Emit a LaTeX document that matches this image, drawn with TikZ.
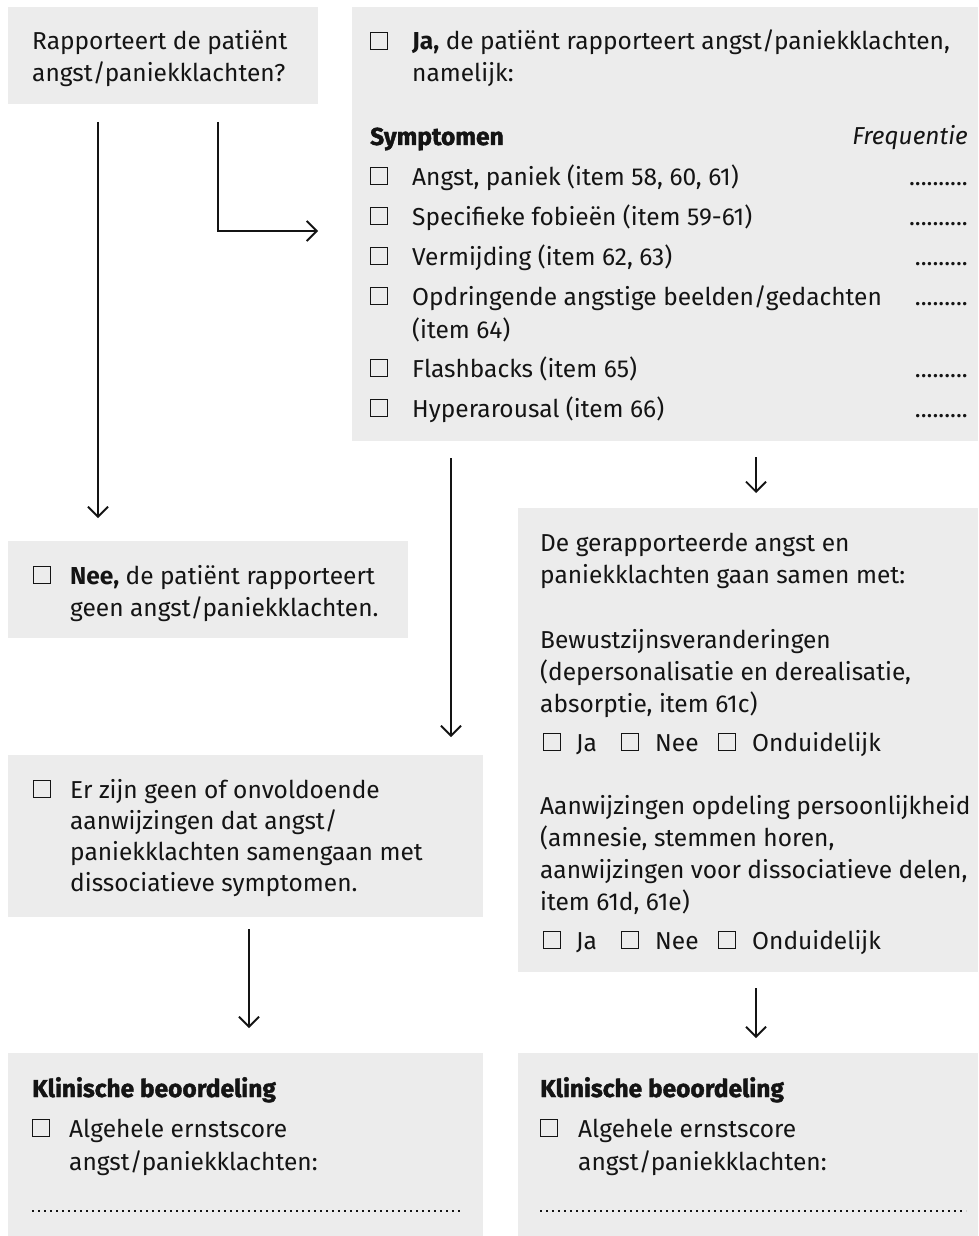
\documentclass[tikz,border=0pt]{standalone}
\usepackage{fontspec}
\setmainfont{Fira Sans}
\newfontfamily\heavyfont{Fira Sans}[BoldFeatures={FakeBold=1.6}]
\usetikzlibrary{arrows.meta}
\definecolor{panelgrey}{RGB}{236,236,236}
\definecolor{ink}{RGB}{20,20,20}
\tikzset{
  panel/.style={fill=panelgrey, draw=none, inner sep=0pt, anchor=north west},
  txt/.style={anchor=base west, inner sep=0pt, text=ink, font=\fontsize{24.5}{28}\selectfont},
  rtxt/.style={txt, anchor=base east},
  hd/.style={anchor=base west, inner sep=0pt, text=ink, font=\fontsize{24.5}{28}\selectfont\heavyfont\bfseries},
  chkbox/.style={draw=ink, line width=1.1pt, minimum size=17pt, inner sep=0pt, anchor=south west},
  smallbox/.style={chkbox, minimum size=17pt},
  flow/.style={draw=ink, line width=1.8pt, -{Straight Barb[length=10pt,width=20pt]}},
  fill line/.style={draw=ink, line width=1.8pt, dash pattern=on 1.8pt off 4.2pt}
}
\begin{document}
\begin{tikzpicture}[x=1pt, y=-1pt]
  \fill[white] (0,0) rectangle (978,1236);
  \useasboundingbox (0,0) rectangle (978,1236);

  % question
  \node[panel, minimum width=310pt, minimum height=97pt] (q) at (8,7) {};
  \node[txt] (q1) at (32,50) {Rapporteert de patiënt};
  \node[txt] (q2) at (32,82) {angst/paniekklachten?};

  % yes: symptom list
  \node[panel, minimum width=626pt, minimum height=434pt] (yes) at (352,7) {};
  \node[chkbox] (yc) at (370,50) {};
  \node[txt] (y1) at (412,50) {\textbf{Ja,} de patiënt rapporteert angst/paniekklachten,};
  \node[txt] (y2) at (412,82) {namelijk:};
  \node[hd] (symh) at (370,145) {Symptomen};
  \node[rtxt, font=\fontsize{24.5}{28}\selectfont\itshape] (freqh) at (968,145) {Frequentie};

  \node[chkbox] (s1c) at (370,185) {};
  \node[txt] (s1) at (412,185) {Angst, paniek (item 58, 60, 61)};
  \node[rtxt] (s1f) at (968,185) {..........};
  \node[chkbox] (s2c) at (370,225) {};
  \node[txt] (s2) at (412,225) {Specifieke fobieën (item 59-61)};
  \node[rtxt] (s2f) at (968,225) {..........};
  \node[chkbox] (s3c) at (370,265) {};
  \node[txt] (s3) at (412,265) {Vermijding (item 62, 63)};
  \node[rtxt] (s3f) at (968,265) {.........};
  \node[chkbox] (s4c) at (370,305) {};
  \node[txt] (s4) at (412,305) {Opdringende angstige beelden/gedachten};
  \node[txt] (s4b) at (412,338) {(item 64)};
  \node[rtxt] (s4f) at (968,305) {.........};
  \node[chkbox] (s5c) at (370,377) {};
  \node[txt] (s5) at (412,377) {Flashbacks (item 65)};
  \node[rtxt] (s5f) at (968,377) {.........};
  \node[chkbox] (s6c) at (370,417) {};
  \node[txt] (s6) at (412,417) {Hyperarousal (item 66)};
  \node[rtxt] (s6f) at (968,417) {.........};

  % no
  \node[panel, minimum width=400pt, minimum height=97pt] (no) at (8,541) {};
  \node[chkbox] (nc) at (33,584) {};
  \node[txt] (n1) at (70,584) {\textbf{Nee,} de patiënt rapporteert};
  \node[txt] (n2) at (70,616) {geen angst/paniekklachten.};

  % dissociation questions
  \node[panel, minimum width=460pt, minimum height=464pt] (dis) at (518,508) {};
  \node[txt] (d1) at (540,551) {De gerapporteerde angst en};
  \node[txt] (d2) at (540,583) {paniekklachten gaan samen met:};
  \node[txt] (d3) at (540,648) {Bewustzijnsveranderingen};
  \node[txt] (d4) at (540,680) {(depersonalisatie en derealisatie,};
  \node[txt] (d5) at (540,712) {absorptie, item 61c)};
  \node[smallbox] (da1) at (543,751) {};
  \node[txt] (da1t) at (576,751) {Ja};
  \node[smallbox] (da2) at (621,751) {};
  \node[txt] (da2t) at (655,751) {Nee};
  \node[smallbox] (da3) at (718,751) {};
  \node[txt] (da3t) at (752,751) {Onduidelijk};
  \node[txt] (d6) at (540,814) {Aanwijzingen opdeling persoonlijkheid};
  \node[txt] (d7) at (540,846) {(amnesie, stemmen horen,};
  \node[txt] (d8) at (540,878) {aanwijzingen voor dissociatieve delen,};
  \node[txt] (d9) at (540,910) {item 61d, 61e)};
  \node[smallbox] (db1) at (543,949) {};
  \node[txt] (db1t) at (576,949) {Ja};
  \node[smallbox] (db2) at (621,949) {};
  \node[txt] (db2t) at (655,949) {Nee};
  \node[smallbox] (db3) at (718,949) {};
  \node[txt] (db3t) at (752,949) {Onduidelijk};

  % insufficient indications
  \node[panel, minimum width=475pt, minimum height=162pt] (ins) at (8,755) {};
  \node[chkbox] (ic) at (33,798) {};
  \node[txt] (i1) at (70,798) {Er zijn geen of onvoldoende};
  \node[txt] (i2) at (70,829) {aanwijzingen dat angst/};
  \node[txt] (i3) at (70,860) {paniekklachten samengaan met};
  \node[txt] (i4) at (70,891) {dissociatieve symptomen.};

  % clinical assessment, left
  \node[panel, minimum width=475pt, minimum height=183pt] (kl) at (8,1053) {};
  \node[hd] (klh) at (32,1097) {Klinische beoordeling};
  \node[chkbox] (klc) at (32,1137) {};
  \node[txt] (kl1) at (69,1137) {Algehele ernstscore};
  \node[txt] (kl2) at (69,1170) {angst/paniekklachten:};
  \coordinate (kldot1) at (32,1211);
  \coordinate (kldot2) at (462,1211);
  \draw[fill line] (kldot1) -- (kldot2);

  % clinical assessment, right
  \node[panel, minimum width=460pt, minimum height=183pt] (kr) at (518,1053) {};
  \node[hd] (krh) at (540,1097) {Klinische beoordeling};
  \node[chkbox] (krc) at (540,1137) {};
  \node[txt] (kr1) at (578,1137) {Algehele ernstscore};
  \node[txt] (kr2) at (578,1170) {angst/paniekklachten:};
  \coordinate (krdot1) at (540,1211);
  \coordinate (krdot2) at (966,1211);
  \draw[fill line] (krdot1) -- (krdot2);

  % connectors
  \coordinate (a1s) at (98,122);
  \coordinate (a1e) at (98,518);
  \draw[flow] (a1s) -- (a1e);
  \coordinate (a2s) at (218,122);
  \coordinate (a2c) at (218,231);
  \coordinate (a2e) at (318,231);
  \draw[flow] (a2s) -- (a2c) -- (a2e);
  \coordinate (a3s) at (451,458);
  \coordinate (a3e) at (451,737);
  \draw[flow] (a3s) -- (a3e);
  \coordinate (a4s) at (756,457);
  \coordinate (a4e) at (756,493);
  \draw[flow] (a4s) -- (a4e);
  \coordinate (a5s) at (249,929);
  \coordinate (a5e) at (249,1028);
  \draw[flow] (a5s) -- (a5e);
  \coordinate (a6s) at (756,988);
  \coordinate (a6e) at (756,1038);
  \draw[flow] (a6s) -- (a6e);
\end{tikzpicture}
\end{document}
